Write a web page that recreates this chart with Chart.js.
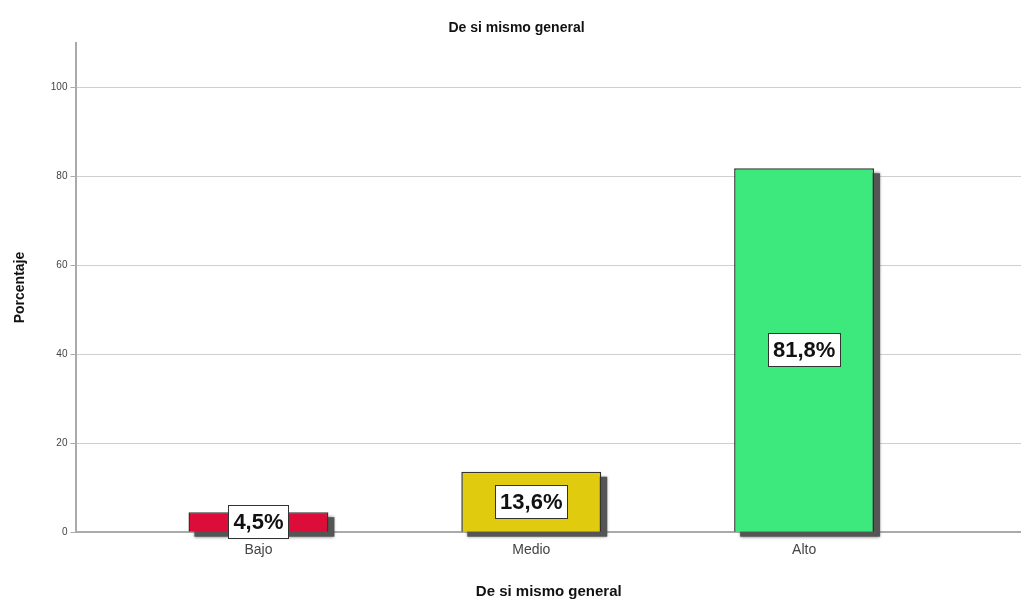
<!DOCTYPE html>
<html>
<head>
<meta charset="utf-8">
<script src="https://cdn.jsdelivr.net/npm/chart.js@4.4.0/dist/chart.umd.min.js"></script>
<style>
  html, body { margin: 0; padding: 0; background: #fff; }
  #wrap { width: 1021px; height: 601px; }
</style>
</head>
<body>
<div id="wrap"><canvas id="myChart" width="1021" height="601"></canvas></div>
<script>
'use strict';

const categories = ['Bajo', 'Medio', 'Alto'];
const percentages = [4.5, 13.6, 81.8];
const barColors = ['#dc0d38', '#e0cb0e', '#3de87c'];
const yTicks = [0, 20, 40, 60, 80, 100];

const ctx = document.getElementById('myChart');

// shadow under the bars + white value boxes, like the SPSS output
const barExtras = {
  id: 'barExtras',
  beforeDatasetsDraw(chart) {
    const c = chart.ctx;
    const meta = chart.getDatasetMeta(0);
    c.save();
    c.fillStyle = '#555';
    c.shadowColor = 'rgba(80,80,80,0.8)';
    c.shadowBlur = 3;
    meta.data.forEach(function (bar) {
      let left = bar.x - bar.width / 2;
      c.fillRect(left + 6, bar.y + 5, bar.width, bar.base - bar.y);
    });
    c.restore();
  },
  afterDatasetsDraw(chart) {
    const c = chart.ctx;
    const meta = chart.getDatasetMeta(0);
    c.save();
    c.font = 'bold 22px "Liberation Sans", Arial, sans-serif';
    c.textAlign = 'center';
    c.textBaseline = 'middle';
    meta.data.forEach(function (bar, i) {
      let txt = percentages[i].toFixed(1).replace('.', ',') + '%';
      let w = Math.round(c.measureText(txt).width + 10);
      let h = 33;
      let x0 = Math.round(bar.x - w / 2);
      let y0 = Math.round((bar.y + bar.base) / 2 - h / 2);
      c.fillStyle = '#fff';
      c.fillRect(x0, y0, w, h);
      c.strokeStyle = '#333';
      c.lineWidth = 1;
      c.strokeRect(x0 + 0.5, y0 + 0.5, w, h);
      c.fillStyle = '#111';
      c.fillText(txt, bar.x, y0 + h / 2 + 1);
    });
    c.restore();
  }
};

new Chart(ctx, {
  type: 'bar',
  data: {
    datasets: [{
      data: percentages.map(function (v, i) { return { x: i, y: v }; }),
      backgroundColor: barColors,
      borderColor: '#333',
      borderWidth: 1.5,
      barPercentage: 0.513,
      categoryPercentage: 1
    }]
  },
  options: {
    responsive: false,
    animation: false,
    layout: { padding: { top: 8, right: 0, bottom: 0, left: 12 } },
    plugins: {
      legend: { display: false },
      tooltip: { enabled: false },
      title: {
        display: true,
        text: 'De si mismo general',
        color: '#111',
        font: { family: '"Liberation Sans", Arial, sans-serif', size: 14, weight: 'bold' },
        padding: { top: 12, bottom: 6 }
      }
    },
    scales: {
      x: {
        type: 'linear',
        offset: false,
        min: -0.667,
        max: 2.795,
        afterBuildTicks(scale) {
          scale.ticks = categories.map(function (c, i) { return { value: i }; });
        },
        ticks: {
          callback: function (v) { return categories[v]; },
          color: '#444',
          font: { family: '"Liberation Sans", Arial, sans-serif', size: 14 },
          padding: 2,
          autoSkip: false,
          maxRotation: 0
        },
        grid: { display: false },
        border: { display: true, color: '#aaa', width: 2 },
        title: {
          display: true,
          text: 'De si mismo general',
          color: '#111',
          font: { family: '"Liberation Sans", Arial, sans-serif', size: 15, weight: 'bold' },
          padding: { top: 22, bottom: 0 }
        }
      },
      y: {
        min: 0,
        max: 110,
        afterBuildTicks(scale) {
          scale.ticks = yTicks.map(function (v) { return { value: v }; });
        },
        ticks: {
          color: '#444',
          font: { family: '"Liberation Sans", Arial, sans-serif', size: 10 },
          padding: 3
        },
        grid: { color: '#cfcfcf', lineWidth: 1, tickLength: 6, tickColor: '#aaa' },
        border: { display: true, color: '#aaa', width: 2 },
        title: {
          display: true,
          text: 'Porcentaje',
          color: '#111',
          font: { family: '"Liberation Sans", Arial, sans-serif', size: 14, weight: 'bold' },
          padding: { top: 0, bottom: 19 }
        }
      }
    }
  },
  plugins: [barExtras]
});
</script>
</body>
</html>
